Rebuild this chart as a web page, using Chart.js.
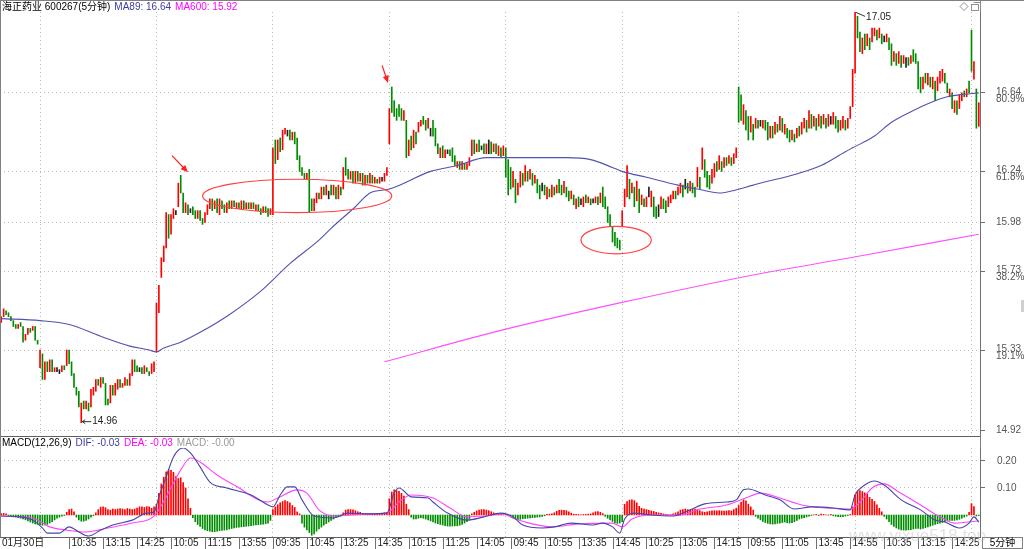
<!DOCTYPE html>
<html>
<head>
<meta charset="utf-8">
<script src="https://cdn.jsdelivr.net/npm/chart.js@4.4.1/dist/chart.umd.min.js"></script>
<style>
  html, body { margin: 0; padding: 0; background: #fff; overflow: hidden; }
  #wrap { position: relative; width: 1024px; height: 549px; }
  #kline { position: absolute; left: 0; top: 0; }
  #macd { position: absolute; left: 0; top: 436px; }
</style>
</head>
<body>
<div id="wrap">
  <canvas id="kline" width="1024" height="436"></canvas>
  <canvas id="macd" width="1024" height="113"></canvas>
</div>
<script>
// 5-minute bars, one entry per bar (index 0 = first visible bar)
// day 0 (16 bars), days 1..8 (48 bars each), day 9 (4 bars)
const lows = [
  15.47,15.50,15.51,15.50,15.48,15.45,15.44,15.44,15.45,15.37,15.38,15.41,15.42,15.43,15.38,15.36,
  15.24,15.18,15.18,15.22,15.22,15.22,15.22,15.22,15.21,15.22,15.23,15.25,15.26,15.20,15.14,15.10,
  15.04,14.96,15.03,15.03,15.02,15.04,15.10,15.12,15.15,15.14,15.16,15.05,15.05,15.06,15.10,15.10,
  15.13,15.14,15.14,15.15,15.15,15.15,15.20,15.22,15.22,15.22,15.21,15.21,15.22,15.20,15.21,15.22,
  15.32,15.52,15.70,15.78,15.85,15.90,15.92,16.00,16.02,16.06,16.13,16.03,16.03,16.02,16.03,16.02,
  16.00,16.00,15.99,15.97,15.98,16.02,16.05,16.04,16.05,16.03,16.02,16.05,16.03,16.03,16.05,16.05,
  16.06,16.05,16.05,16.05,16.05,16.05,16.05,16.05,16.05,16.04,16.04,16.02,16.03,16.03,16.01,16.02,
  16.02,16.28,16.30,16.34,16.35,16.43,16.42,16.40,16.40,16.38,16.30,16.24,16.22,16.20,16.20,16.03,
  16.04,16.04,16.08,16.10,16.10,16.12,16.12,16.10,16.12,16.12,16.10,16.10,16.12,16.15,16.22,16.20,
  16.20,16.18,16.18,16.19,16.19,16.17,16.17,16.18,16.18,16.18,16.18,16.18,16.18,16.19,16.19,16.22,
  16.38,16.54,16.52,16.50,16.52,16.50,16.50,16.31,16.32,16.35,16.36,16.38,16.44,16.47,16.48,16.45,
  16.46,16.42,16.42,16.37,16.33,16.31,16.31,16.31,16.33,16.32,16.29,16.27,16.26,16.25,16.25,16.25,
  16.25,16.27,16.32,16.33,16.34,16.34,16.35,16.33,16.33,16.33,16.33,16.34,16.33,16.32,16.31,16.32,
  16.21,16.12,16.15,16.16,16.08,16.12,16.16,16.17,16.19,16.19,16.20,16.17,16.18,16.13,16.10,16.14,
  16.12,16.10,16.11,16.11,16.12,16.13,16.13,16.12,16.13,16.11,16.09,16.10,16.07,16.05,16.06,16.07,
  16.06,16.08,16.08,16.07,16.08,16.08,16.07,16.08,16.06,16.05,15.98,15.96,15.88,15.86,15.85,15.84,
  15.96,16.06,16.11,16.10,16.13,16.06,16.09,16.03,16.07,16.06,16.06,16.11,16.06,16.01,16.00,16.01,
  16.05,16.05,16.03,16.06,16.08,16.10,16.10,16.12,16.13,16.11,16.15,16.13,16.14,16.13,16.11,16.16,
  16.15,16.25,16.21,16.16,16.15,16.18,16.21,16.24,16.25,16.24,16.26,16.27,16.28,16.27,16.28,16.31,
  16.49,16.50,16.48,16.45,16.40,16.44,16.40,16.46,16.46,16.47,16.46,16.45,16.40,16.41,16.41,16.43,
  16.44,16.45,16.44,16.43,16.41,16.39,16.40,16.39,16.41,16.42,16.43,16.46,16.44,16.46,16.46,16.47,
  16.45,16.47,16.46,16.48,16.46,16.47,16.48,16.48,16.46,16.44,16.45,16.46,16.45,16.46,16.51,16.57,
  16.74,16.92,16.85,16.84,16.86,16.88,16.86,16.90,16.93,16.91,16.92,16.89,16.90,16.90,16.86,16.78,
  16.80,16.78,16.79,16.77,16.79,16.77,16.78,16.79,16.80,16.79,16.66,16.64,16.66,16.69,16.68,16.67,
  16.66,16.60,16.65,16.69,16.70,16.69,16.64,16.62,16.56,16.54,16.53,16.56,16.60,16.62,16.62,16.64,
  16.75,16.71,16.46,16.47
];
const highs = [
  15.50,15.54,15.53,15.52,15.50,15.48,15.46,15.46,15.47,15.45,15.41,15.44,15.44,15.45,15.45,15.38,
  15.33,15.31,15.27,15.27,15.28,15.28,15.24,15.24,15.23,15.25,15.25,15.33,15.33,15.27,15.21,15.14,
  15.12,15.06,15.07,15.07,15.06,15.13,15.14,15.18,15.18,15.19,15.19,15.16,15.08,15.15,15.15,15.16,
  15.18,15.18,15.16,15.19,15.18,15.21,15.28,15.28,15.25,15.24,15.24,15.25,15.24,15.22,15.26,15.27,
  15.57,15.66,15.80,15.86,16.03,16.02,16.02,16.05,16.04,16.18,16.22,16.13,16.08,16.07,16.05,16.06,
  16.04,16.04,16.04,16.00,16.03,16.07,16.10,16.10,16.09,16.10,16.10,16.09,16.07,16.08,16.09,16.09,
  16.09,16.08,16.08,16.09,16.09,16.08,16.08,16.08,16.08,16.07,16.07,16.05,16.06,16.06,16.05,16.05,
  16.36,16.40,16.40,16.41,16.45,16.46,16.45,16.45,16.44,16.44,16.41,16.32,16.26,16.23,16.23,16.25,
  16.10,16.10,16.13,16.13,16.16,16.16,16.17,16.14,16.17,16.17,16.16,16.17,16.16,16.26,16.31,16.25,
  16.24,16.24,16.24,16.24,16.23,16.23,16.22,16.22,16.23,16.22,16.21,16.20,16.21,16.21,16.23,16.26,
  16.56,16.67,16.60,16.56,16.58,16.56,16.55,16.50,16.40,16.42,16.45,16.44,16.49,16.50,16.52,16.50,
  16.51,16.46,16.50,16.46,16.38,16.36,16.37,16.35,16.35,16.35,16.36,16.32,16.29,16.29,16.29,16.28,
  16.28,16.31,16.40,16.40,16.38,16.40,16.37,16.38,16.38,16.40,16.39,16.38,16.38,16.37,16.36,16.37,
  16.36,16.30,16.26,16.24,16.20,16.18,16.24,16.23,16.27,16.24,16.25,16.23,16.22,16.20,16.17,16.18,
  16.17,16.16,16.15,16.17,16.16,16.17,16.20,16.17,16.19,16.16,16.14,16.14,16.12,16.10,16.11,16.10,
  16.11,16.12,16.11,16.10,16.10,16.11,16.11,16.13,16.16,16.11,16.06,16.02,15.96,15.93,15.90,15.89,
  16.04,16.15,16.27,16.20,16.18,16.16,16.19,16.15,16.12,16.10,16.11,16.16,16.14,16.11,16.06,16.07,
  16.11,16.10,16.09,16.11,16.12,16.14,16.14,16.16,16.18,16.17,16.20,16.18,16.19,16.18,16.16,16.26,
  16.21,16.36,16.30,16.24,16.22,16.25,16.28,16.29,16.32,16.29,16.31,16.31,16.32,16.31,16.33,16.36,
  16.67,16.63,16.58,16.55,16.52,16.52,16.48,16.51,16.50,16.50,16.50,16.50,16.49,16.47,16.47,16.49,
  16.48,16.52,16.51,16.48,16.46,16.45,16.45,16.43,16.46,16.47,16.49,16.51,16.50,16.55,16.53,16.52,
  16.51,16.53,16.52,16.53,16.51,16.53,16.52,16.54,16.52,16.50,16.50,16.52,16.50,16.51,16.57,16.76,
  17.05,17.03,16.95,16.92,16.94,16.94,16.92,16.97,16.97,16.96,16.97,16.94,16.93,16.94,16.92,16.89,
  16.85,16.84,16.85,16.83,16.83,16.82,16.82,16.83,16.86,16.84,16.80,16.72,16.72,16.74,16.74,16.72,
  16.72,16.70,16.72,16.75,16.76,16.74,16.69,16.66,16.64,16.60,16.60,16.63,16.64,16.65,16.66,16.70,
  16.96,16.80,16.66,16.59
];
// r = up (red), g = down (green), k = unchanged
const trend = (
  'rrgggggrggrrgrgg' +
  'rgrgrgrk' + 'krgrgggg' + 'grgrgrrr' + 'grgggrgr' + 'rgrrgrrg' + 'gkgrggrr' +
  'rrrrrgrr' + 'krggrgkg' + 'grggrrrg' + 'rgrggrgr' + 'grgrgrgr' + 'grggrggr' +
  'rgrgrrkg' + 'rgggggrg' + 'grrgrgrk' + 'grgrgrgg' + 'rgrgrgrg' + 'rgrgrkrr' +
  'rgggggrg' + 'rgrgrrgg' + 'rkgggrgr' + 'kgggrgrg' + 'rrrgrgkg' + 'rkgrgrgr' +
  'gggrgrrg' + 'rgrgrggk' + 'grgrgrgg' + 'rggrgrgk' + 'rgrgkrgr' + 'gggggggg' +
  'rrrgrgrg' + 'rgrkrggk' + 'rggrrrgr' + 'rgkgrggr' + 'grgggrrg' + 'rgrgrgrr' +
  'ggrggrgr' + 'gkrggrgr' + 'grgrggrg' + 'rgrrgrgr' + 'grgrgrkr' + 'ggrrgrrr' +
  'rggrgrgr' + 'rgrgkrgg' + 'rgrgrkgr' + 'ggggrgrg' + 'rgrrrggr' + 'grgrrgrg' +
  'grgr'
).split('');

// MACD histogram per bar
const hist = [
  0.005,0.006,0.004,
  -0.003,-0.005,-0.007,-0.008,-0.010,-0.012,-0.015,-0.018,-0.022,-0.026,-0.030,-0.033,-0.035,-0.037,-0.038,-0.037,-0.035,-0.030,-0.025,-0.018,-0.012,-0.008,-0.004,-0.002,
  0.010,0.020,0.022,0.012,
  -0.008,-0.018,-0.023,-0.023,-0.020,-0.015,-0.008,-0.003,
  0.008,0.020,0.029,0.030,0.027,0.020,0.018,0.022,0.020,0.022,0.024,0.022,0.020,0.024,0.022,0.020,0.022,0.026,0.030,0.030,0.028,0.031,0.030,0.025,0.030,
  0.040,0.080,0.115,0.140,0.160,0.167,0.165,0.158,0.142,0.135,0.138,0.120,0.100,0.060,0.025,
  -0.010,-0.025,-0.035,-0.042,-0.050,-0.055,-0.058,-0.060,-0.062,-0.062,-0.060,-0.058,-0.057,-0.056,-0.055,-0.052,-0.050,-0.048,-0.046,-0.045,-0.044,-0.043,-0.042,-0.041,-0.040,-0.038,-0.037,-0.036,-0.035,-0.034,-0.032,-0.030,-0.020,
  0.020,0.030,0.038,0.045,0.050,0.053,0.050,0.045,0.035,0.028,0.012,0.004,
  -0.030,-0.045,-0.055,-0.065,-0.075,-0.070,-0.060,-0.052,-0.045,-0.038,-0.032,-0.026,-0.020,-0.015,-0.010,-0.007,-0.004,
  0.008,0.018,0.020,0.020,0.019,0.016,0.012,0.010,0.006,0.005,0.004,0.004,0.005,0.004,0.004,0.005,0.006,0.008,0.010,
  0.060,0.085,0.093,0.090,0.088,0.080,0.070,0.040,0.020,
  -0.008,-0.015,-0.015,-0.012,-0.010,-0.012,-0.015,-0.018,-0.022,-0.026,-0.030,-0.032,-0.035,-0.037,-0.040,-0.041,-0.041,-0.041,-0.040,-0.040,-0.038,-0.035,-0.030,-0.025,-0.015,
  0.004,0.010,0.015,0.018,0.020,0.020,0.018,0.016,0.012,0.008,0.005,0.003,0.002,0.001,0.001,-0.001,
  -0.005,-0.012,-0.016,-0.017,-0.016,-0.014,-0.013,-0.012,-0.011,-0.010,-0.009,-0.008,-0.007,-0.005,-0.003,
  0.002,0.003,0.004,
  0.008,0.014,0.017,0.018,0.017,0.016,0.012,0.007,0.003,
  0.002,0.002,0.001,0.002,0.002,0.003,0.004,
  0.008,0.012,0.013,0.010,0.005,
  -0.005,-0.012,-0.018,-0.024,-0.028,-0.031,-0.030,-0.025,
  0.040,0.050,0.055,0.056,0.053,0.045,0.032,0.025,
  0.022,0.020,0.017,0.015,0.013,0.010,0.008,0.006,0.004,0.002,0.001,0.001,
  0.004,0.008,0.012,0.018,0.020,0.022,0.020,0.018,0.020,0.022,0.020,0.016,0.012,0.010,0.012,0.014,0.015,0.016,0.015,0.016,0.015,0.014,0.015,0.016,0.015,0.020,0.025,
  0.035,0.048,0.056,0.052,0.040,0.030,0.018,
  -0.005,-0.012,-0.018,-0.024,-0.028,-0.031,-0.033,-0.034,-0.033,-0.031,-0.030,-0.028,-0.026,-0.028,-0.030,-0.028,-0.025,-0.020,-0.015,-0.012,-0.010,-0.007,-0.004,-0.002,
  0.001,0.002,-0.002,0.003,0.002,0.001,-0.001,0.002,-0.003,-0.005,-0.006,-0.007,-0.006,-0.004,-0.002,0.002,
  0.030,0.075,0.088,0.090,0.087,0.082,0.078,0.065,0.058,0.050,0.038,0.025,0.012,
  -0.005,-0.015,-0.025,-0.035,-0.042,-0.048,-0.052,-0.055,-0.056,-0.056,-0.055,-0.054,-0.052,-0.050,-0.050,-0.052,-0.050,-0.047,-0.044,-0.041,-0.038,-0.035,-0.032,-0.030,-0.028,-0.025,-0.022,-0.020,-0.020,-0.020,-0.018,-0.016,-0.012,-0.008,-0.004,
  0.010,0.042,0.031,-0.004,-0.002
];

// moving averages, read at bar indices
const ma89Idx = [0,16,28,41,53,61,64,67,74,82,94,107,119,131,136,146,152,160,177,188,200,208,215,222,233,243,252,256,266,279,287,296,301,310,316,323,338,348,351,360,367,376,383,390,395,403];
const ma89Val = [15.49,15.48,15.46,15.40,15.35,15.33,15.32,15.34,15.37,15.42,15.51,15.63,15.77,15.89,15.95,16.06,16.13,16.15,16.24,16.27,16.31,16.31,16.31,16.31,16.31,16.30,16.26,16.24,16.21,16.17,16.15,16.13,16.14,16.17,16.19,16.21,16.27,16.34,16.36,16.42,16.49,16.55,16.59,16.62,16.63,16.64];
const ma600Idx = [158,206,255,309,350,403];
const ma600Val = [15.27,15.43,15.57,15.71,15.80,15.92];

const difIdx = [0,8,13,17,19,24,28,32,36,41,46,54,60,63,65,68,71,75,78,82,86,93,103,110,112,115,118,121,124,129,137,143,151,159,162,164,169,176,178,184,192,199,206,211,215,223,228,235,244,248,252,255,257,261,268,277,284,290,299,303,306,308,315,321,327,334,343,350,352,356,360,364,371,379,385,389,395,399,401,403];
const difVal = [-0.004,-0.007,-0.019,-0.048,-0.067,-0.067,-0.044,-0.063,-0.078,-0.056,-0.037,-0.019,0.007,0.011,0.067,0.141,0.215,0.248,0.230,0.178,0.122,0.100,0.074,0.037,0.030,0.074,0.104,0.104,0.056,-0.004,-0.011,0.007,0.004,0.007,0.081,0.100,0.067,0.063,0.048,0.007,-0.019,-0.007,0.007,-0.007,-0.037,-0.048,-0.044,-0.030,-0.037,-0.030,-0.044,-0.067,-0.015,0.007,0.000,-0.004,0.019,0.041,0.048,0.056,0.093,0.096,0.074,0.056,0.022,0.030,0.026,0.019,0.074,0.111,0.126,0.111,0.056,0.019,-0.019,-0.026,-0.048,-0.030,-0.007,-0.026];
const deaIdx = [0,13,20,27,35,44,54,63,68,74,78,82,89,96,110,114,122,126,131,137,151,159,164,169,178,185,192,199,207,211,219,227,238,252,256,260,268,280,288,299,307,313,321,330,340,350,354,359,364,370,379,387,393,403];
const deaVal = [-0.004,-0.011,-0.044,-0.056,-0.063,-0.048,-0.030,-0.004,0.067,0.167,0.211,0.196,0.148,0.111,0.048,0.063,0.093,0.081,0.019,-0.004,0.004,0.007,0.048,0.074,0.063,0.026,-0.007,-0.004,0.004,-0.011,-0.033,-0.044,-0.033,-0.030,-0.044,-0.015,0.000,0.000,0.022,0.037,0.063,0.081,0.063,0.037,0.026,0.022,0.048,0.100,0.115,0.085,0.037,-0.007,-0.030,-0.022];

// axes
const dayBreaks = [16, 64, 112, 160, 208, 256, 304, 352, 400];
const priceTicks = [16.64, 16.24, 15.98, 15.73, 15.33, 14.92];
const pctLabels = ['80.9%', '61.8%', '', '38.2%', '19.1%', ''];
const macdTicks = [0.20, 0.10];
const timeIdx = [0,28,42,56,70,84,98,112,126,140,154,168,182,196,210,224,238,252,266,280,294,308,322,336,350,364,378,392];
const timeLabels = ['01月30日','10:35','13:15','14:25','10:05','11:15','13:55','09:35','10:45','13:25','14:35','10:15','11:25','14:05','09:45','10:55','13:35','14:45','10:25','13:05','14:15','09:55','11:05','13:45','14:55','10:35','13:15','14:25'];

// hand-drawn marks on the picture (bar index / price)
const ovals = [[83, 161, 16.03, 16.20], [239, 268, 15.82, 15.96]];
const arrows = [[70.4, 16.32, 77, 16.235], [157, 16.78, 159.5, 16.69]];

const FONT = '"Liberation Sans", "Noto Sans CJK SC", Arial, sans-serif';
const pts = (ix, vals) => ix.map((v, k) => ({ x: v, y: vals[k] }));
const bars = lows.map((lo, i) => ({ x: i, y: [lo, highs[i]] }));
const candleColors = trend.map(t => t === 'r' ? '#ff0000' : t === 'g' ? '#008c00' : '#202020');

function line(ctx, x1, y1, x2, y2) {
  ctx.beginPath(); ctx.moveTo(x1, y1); ctx.lineTo(x2, y2); ctx.stroke();
}

// draws a row of coloured texts, each starting no earlier than its given x
function textRow(ctx, items, y) {
  let cur = 0;
  items.forEach(([txt, color, x]) => {
    const px = Math.max(x, cur);
    ctx.fillStyle = color;
    ctx.fillText(txt, px, y);
    cur = px + ctx.measureText(txt).width + 4;
  });
}

const kDeco = {
  id: 'kDeco',
  afterDraw(chart) {
    const { ctx, chartArea: a, scales: { x, y } } = chart;
    ctx.save();
    // frame
    ctx.strokeStyle = '#808080'; ctx.lineWidth = 1;
    line(ctx, 0.5, 0, 0.5, chart.height);
    line(ctx, 0, 0.5, chart.width, 0.5);
    line(ctx, a.right + 0.5, 0, a.right + 0.5, a.top);

    // title
    ctx.font = '10px ' + FONT; ctx.textBaseline = 'middle'; ctx.textAlign = 'left';
    textRow(ctx, [
      ['海正药业 600267(5分钟)', '#000', 2],
      ['MA89: 16.64', '#3c3ca0', 112],
      ['MA600: 15.92', '#ff00ff', 172]
    ], 7);

    // right axis labels
    ctx.font = '10px ' + FONT; ctx.fillStyle = '#555';
    priceTicks.forEach((v, k) => {
      const py = y.getPixelForValue(v);
      if (pctLabels[k]) {
        ctx.fillText(v.toFixed(2), a.right + 16, py - 1);
        ctx.fillText(pctLabels[k], a.right + 16, py + 6);
      } else {
        ctx.fillText(v.toFixed(2), a.right + 16, py);
      }
    });

    // ovals
    ctx.strokeStyle = '#ff4040'; ctx.lineWidth = 1.2;
    ovals.forEach(([i0, i1, p0, p1]) => {
      const xa = x.getPixelForValue(i0), xb = x.getPixelForValue(i1);
      const ya = y.getPixelForValue(p1), yb = y.getPixelForValue(p0);
      ctx.beginPath();
      ctx.ellipse((xa + xb) / 2, (ya + yb) / 2, (xb - xa) / 2, (yb - ya) / 2, 0, 0, Math.PI * 2);
      ctx.stroke();
    });

    // arrows
    ctx.strokeStyle = '#ff2020'; ctx.fillStyle = '#ff2020'; ctx.lineWidth = 1.2;
    arrows.forEach(([i0, p0, i1, p1]) => {
      const x0 = x.getPixelForValue(i0), y0 = y.getPixelForValue(p0);
      const x1 = x.getPixelForValue(i1), y1 = y.getPixelForValue(p1);
      const ang = Math.atan2(y1 - y0, x1 - x0);
      line(ctx, x0, y0, x1 - 4 * Math.cos(ang), y1 - 4 * Math.sin(ang));
      ctx.beginPath();
      ctx.moveTo(x1, y1);
      ctx.lineTo(x1 - 8 * Math.cos(ang - 0.4), y1 - 8 * Math.sin(ang - 0.4));
      ctx.lineTo(x1 - 8 * Math.cos(ang + 0.4), y1 - 8 * Math.sin(ang + 0.4));
      ctx.closePath(); ctx.fill();
    });

    // high / low markers
    const hiIdx = highs.indexOf(Math.max(...highs));
    const loIdx = lows.indexOf(Math.min(...lows));
    ctx.strokeStyle = '#333'; ctx.fillStyle = '#222'; ctx.lineWidth = 1;
    ctx.font = '10px ' + FONT;
    const hx = x.getPixelForValue(hiIdx), hy = y.getPixelForValue(highs[hiIdx]);
    line(ctx, hx + 1, hy, hx + 10, hy + 4);
    ctx.fillText(highs[hiIdx].toFixed(2), hx + 11, hy + 5);
    const lx = x.getPixelForValue(loIdx), ly = y.getPixelForValue(lows[loIdx]);
    line(ctx, lx + 1, ly - 1, lx + 10, ly - 1);
    line(ctx, lx + 1, ly - 1, lx + 4, ly - 3);
    line(ctx, lx + 1, ly - 1, lx + 4, ly + 1);
    ctx.fillText(lows[loIdx].toFixed(2), lx + 11, ly - 1);

    // small icons top right
    ctx.strokeStyle = '#909090';
    ctx.beginPath();
    ctx.moveTo(964, 2.5); ctx.lineTo(968, 6.5); ctx.lineTo(964, 10.5); ctx.lineTo(960, 6.5); ctx.closePath();
    ctx.stroke();
    ctx.strokeRect(971.5, 4.5, 7, 6);
    line(ctx, 973.5, 2.5, 980.5, 2.5);
    line(ctx, 980.5, 2.5, 980.5, 8.5);
    ctx.fillStyle = '#d0d0d0'; ctx.fillRect(1021, 300, 3, 12);
    ctx.restore();
  }
};

const mDeco = {
  id: 'mDeco',
  afterDraw(chart) {
    const { ctx, chartArea: a, scales: { x, y } } = chart;
    ctx.save();
    ctx.strokeStyle = '#606060'; ctx.lineWidth = 1;
    line(ctx, 0, 0.5, a.right, 0.5);
    ctx.strokeStyle = '#808080';
    line(ctx, 0.5, 0, 0.5, a.bottom);
    line(ctx, a.right + 0.5, 0, a.right + 0.5, a.top);

    ctx.font = '10px ' + FONT; ctx.textBaseline = 'middle'; ctx.textAlign = 'left';
    textRow(ctx, [
      ['MACD(12,26,9)', '#000', 2],
      ['DIF: -0.03', '#3c3ca0', 73],
      ['DEA: -0.03', '#ff00ff', 119],
      ['MACD: -0.00', '#999', 171]
    ], 7);

    ctx.fillStyle = '#555';
    macdTicks.forEach(v => ctx.fillText(v.toFixed(2), a.right + 17, y.getPixelForValue(v)));

    // time axis
    ctx.strokeStyle = '#707070';
    ctx.fillStyle = '#222';
    timeIdx.forEach((ix, k) => {
      const px = k === 0 ? 0 : Math.round(x.getPixelForValue(ix)) + 0.5;
      if (k > 0) line(ctx, px, a.bottom, px, chart.height);
      ctx.fillText(timeLabels[k], k === 0 ? 2 : px + 2, a.bottom + 6.5);
    });

    // period box
    ctx.strokeStyle = '#808080';
    ctx.strokeRect(a.right + 2.5, a.bottom + 0.5, 40, 11);
    ctx.textAlign = 'center'; ctx.fillStyle = '#000';
    ctx.fillText('5分钟', a.right + 22.5, a.bottom + 6.5);

    // watermark
    ctx.font = '17px ' + FONT; ctx.textAlign = 'left';
    ctx.fillStyle = 'rgba(190,190,190,0.45)';
    ctx.fillText('www.yixue518.top', 849, 100);
    ctx.restore();
  }
};

const xBase = {
  type: 'linear', min: -0.5, max: 403.5, offset: false,
  afterBuildTicks: s => { s.ticks = dayBreaks.map(v => ({ value: v })); },
  ticks: { display: false },
  grid: { offset: false, color: '#b8b8b8', drawTicks: false }
};

new Chart(document.getElementById('kline'), {
  type: 'bar',
  data: {
    datasets: [
      { type: 'line', data: pts(ma89Idx, ma89Val), borderColor: '#5252b0', borderWidth: 1.1,
        pointRadius: 0, cubicInterpolationMode: 'monotone', order: 0 },
      { type: 'line', data: pts(ma600Idx, ma600Val), borderColor: '#ff50ff', borderWidth: 1.1,
        pointRadius: 0, cubicInterpolationMode: 'monotone', order: 1 },
      { type: 'bar', data: bars, backgroundColor: candleColors, barThickness: 1,
        minBarLength: 1, grouped: false, order: 2 }
    ]
  },
  options: {
    responsive: false, animation: false, events: [],
    layout: { padding: { top: 12 } },
    plugins: { legend: { display: false }, tooltip: { enabled: false } },
    scales: {
      x: Object.assign({}, xBase, {
        afterFit: s => { s.height = 0; },
        border: { display: false, dash: [1, 3] }
      }),
      y: {
        position: 'right', min: 14.892, max: 17.052,
        afterBuildTicks: s => { s.ticks = priceTicks.map(v => ({ value: v })); },
        afterFit: s => { s.width = 44; },
        ticks: { display: false },
        grid: { color: '#b8b8b8', tickLength: 5, tickColor: '#707070' },
        border: { color: '#707070', dash: [1, 3] }
      }
    }
  },
  plugins: [kDeco]
});

new Chart(document.getElementById('macd'), {
  type: 'bar',
  data: {
    datasets: [
      { type: 'line', data: pts(difIdx, difVal), borderColor: '#4646a8', borderWidth: 1.1,
        pointRadius: 0, cubicInterpolationMode: 'monotone', order: 0 },
      { type: 'line', data: pts(deaIdx, deaVal), borderColor: '#ff44ff', borderWidth: 1.1,
        pointRadius: 0, cubicInterpolationMode: 'monotone', order: 1 },
      { type: 'bar', data: hist.map((v, i) => ({ x: i, y: v })),
        backgroundColor: hist.map(v => v >= 0 ? '#ff0000' : '#008c00'),
        barThickness: 1, grouped: false, order: 2 }
    ]
  },
  options: {
    responsive: false, animation: false, events: [],
    layout: { padding: { top: 12 } },
    plugins: { legend: { display: false }, tooltip: { enabled: false } },
    scales: {
      x: Object.assign({}, xBase, {
        afterFit: s => { s.height = 12; },
        border: { display: true, color: '#606060', dash: [1, 3] }
      }),
      y: {
        position: 'right', min: -0.0815, max: 0.248,
        afterBuildTicks: s => { s.ticks = macdTicks.map(v => ({ value: v })); },
        afterFit: s => { s.width = 44; },
        ticks: { display: false },
        grid: { color: '#b8b8b8', tickLength: 5, tickColor: '#707070' },
        border: { color: '#707070', dash: [1, 3] }
      }
    }
  },
  plugins: [mDeco]
});
</script>
</body>
</html>
